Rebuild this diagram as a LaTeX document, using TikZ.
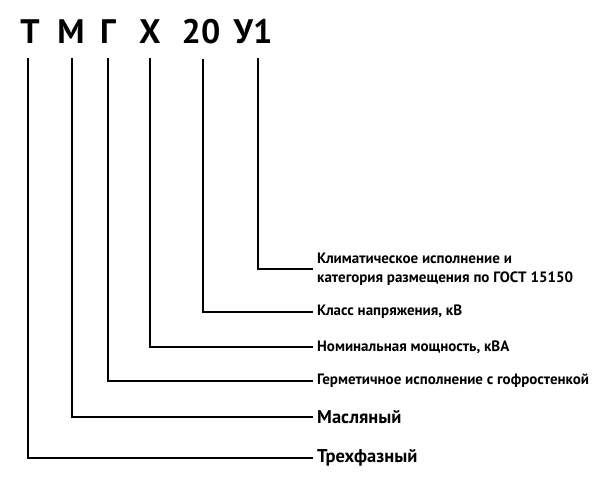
\documentclass[tikz,border=0pt]{standalone}
\usepackage{fontspec}
\setmainfont{PT Sans}
\usepackage{tikz}
\usetikzlibrary{positioning}
\tikzset{
  bukva/.style={font=\fontsize{34}{36}\selectfont\bfseries, inner sep=0pt, anchor=base},
  opis/.style={font=\fontsize{#1}{#1}\selectfont\bfseries, anchor=west, inner sep=4pt, align=left},
  opis/.default=15,
  linija/.style={line width=2pt},
}

\begin{document}
\begin{tikzpicture}[x=1pt, y=1pt]
  \useasboundingbox (0,0) rectangle (600,-488);
  % буквы обозначения
  \node[bukva] (t) at (30,-43) {Т};
  \node[bukva] (m) at (71,-43) {М};
  \node[bukva] (g) at (108,-43) {Г};
  \node[bukva] (x) at (150,-43) {Х};
  \node[bukva] (kv) at (201,-43) {20};
  \node[bukva] (u) at (253,-43) {У1};
  % расшифровка
  \node[opis] (lu) at (313,-269) {Климатическое исполнение и\\[4pt]категория размещения по ГОСТ 15150};
  \node[opis] (lkv) at (313,-312) {Класс напряжения, кВ};
  \node[opis] (lx) at (313,-347) {Номинальная мощность, кВА};
  \node[opis] (lg) at (313,-381) {Герметичное исполнение с гофростенкой};
  \node[opis=18.5] (lm) at (313,-417) {Масляный};
  \node[opis=18.5] (lt) at (313,-458) {Трехфазный};
  % выноски
  \draw[linija] ([xshift=-2pt, yshift=-15pt]t.south) |- (lt.west);
  \draw[linija] ([xshift=1pt, yshift=-15pt]m.south) |- (lm.west);
  \draw[linija] ([yshift=-15pt]g.south) |- (lg.west);
  \draw[linija] ([yshift=-15pt]x.south) |- (lx.west);
  \draw[linija] ([xshift=2pt, yshift=-15pt]kv.south) |- (lkv.west);
  \draw[linija] ([xshift=5pt, yshift=-15pt]u.south) |- (lu.west);
\end{tikzpicture}
\end{document}
